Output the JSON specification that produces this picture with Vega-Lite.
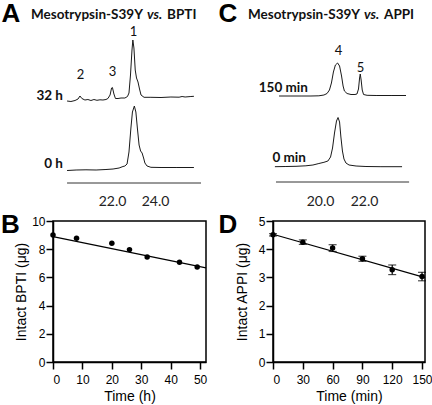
{
  "$schema": "https://vega.github.io/schema/vega-lite/v6.json",
  "padding": 0,
  "background": "white",
  "columns": 2,
  "align": "each",
  "bounds": "flush",
  "spacing": {"row": 38, "column": 67},
  "config": {"view": {"stroke": null}, "axis": {"grid": false}},
  "datasets": {
    "bptiTrace": [
      {"trace": "32 h", "t": 19.91, "s": 82}, {"trace": "32 h", "t": 20.09, "s": 81.5}, {"trace": "32 h", "t": 20.28, "s": 82.5},
      {"trace": "32 h", "t": 20.42, "s": 84}, {"trace": "32 h", "t": 20.51, "s": 87}, {"trace": "32 h", "t": 20.60, "s": 84.5},
      {"trace": "32 h", "t": 20.74, "s": 83}, {"trace": "32 h", "t": 20.88, "s": 83.5}, {"trace": "32 h", "t": 21.02, "s": 82.5},
      {"trace": "32 h", "t": 21.16, "s": 83.5}, {"trace": "32 h", "t": 21.30, "s": 82.7}, {"trace": "32 h", "t": 21.44, "s": 83.2},
      {"trace": "32 h", "t": 21.58, "s": 83}, {"trace": "32 h", "t": 21.72, "s": 83.5}, {"trace": "32 h", "t": 21.81, "s": 84.5},
      {"trace": "32 h", "t": 21.91, "s": 88}, {"trace": "32 h", "t": 21.98, "s": 95}, {"trace": "32 h", "t": 22.02, "s": 95.5},
      {"trace": "32 h", "t": 22.09, "s": 89}, {"trace": "32 h", "t": 22.16, "s": 84.5}, {"trace": "32 h", "t": 22.28, "s": 84.5},
      {"trace": "32 h", "t": 22.42, "s": 85}, {"trace": "32 h", "t": 22.60, "s": 85}, {"trace": "32 h", "t": 22.72, "s": 86.5},
      {"trace": "32 h", "t": 22.79, "s": 90}, {"trace": "32 h", "t": 22.86, "s": 108}, {"trace": "32 h", "t": 22.93, "s": 133},
      {"trace": "32 h", "t": 22.97, "s": 143}, {"trace": "32 h", "t": 23.02, "s": 135}, {"trace": "32 h", "t": 23.08, "s": 113},
      {"trace": "32 h", "t": 23.14, "s": 105}, {"trace": "32 h", "t": 23.21, "s": 101}, {"trace": "32 h", "t": 23.28, "s": 94},
      {"trace": "32 h", "t": 23.35, "s": 88}, {"trace": "32 h", "t": 23.49, "s": 85.7}, {"trace": "32 h", "t": 23.81, "s": 85.7},
      {"trace": "32 h", "t": 24.28, "s": 85.5}, {"trace": "32 h", "t": 24.74, "s": 86}, {"trace": "32 h", "t": 25.12, "s": 85.8},
      {"trace": "32 h", "t": 25.26, "s": 86.5}, {"trace": "32 h", "t": 25.40, "s": 86}, {"trace": "32 h", "t": 25.67, "s": 86.5},
      {"trace": "32 h", "t": 25.81, "s": 86.7},
      {"trace": "0 h", "t": 19.91, "s": 12.5}, {"trace": "0 h", "t": 20.33, "s": 13}, {"trace": "0 h", "t": 20.79, "s": 13.2},
      {"trace": "0 h", "t": 21.26, "s": 13}, {"trace": "0 h", "t": 21.72, "s": 13.5}, {"trace": "0 h", "t": 22.05, "s": 14},
      {"trace": "0 h", "t": 22.33, "s": 15}, {"trace": "0 h", "t": 22.51, "s": 16.5}, {"trace": "0 h", "t": 22.60, "s": 17},
      {"trace": "0 h", "t": 22.70, "s": 19}, {"trace": "0 h", "t": 22.79, "s": 31}, {"trace": "0 h", "t": 22.88, "s": 55},
      {"trace": "0 h", "t": 22.95, "s": 71}, {"trace": "0 h", "t": 23.04, "s": 77}, {"trace": "0 h", "t": 23.11, "s": 71},
      {"trace": "0 h", "t": 23.18, "s": 55}, {"trace": "0 h", "t": 23.26, "s": 38}, {"trace": "0 h", "t": 23.33, "s": 32},
      {"trace": "0 h", "t": 23.40, "s": 30}, {"trace": "0 h", "t": 23.47, "s": 25}, {"trace": "0 h", "t": 23.53, "s": 20},
      {"trace": "0 h", "t": 23.63, "s": 17}, {"trace": "0 h", "t": 23.81, "s": 15.7}, {"trace": "0 h", "t": 24.28, "s": 15.5},
      {"trace": "0 h", "t": 24.98, "s": 15.5}, {"trace": "0 h", "t": 25.81, "s": 15.5}
    ],
    "bptiAxis": [{"t": 19.91, "t2": 26.14, "s": 0}],
    "bptiText": [
      {"kind": "letter", "t": 16.86, "s": 161, "label": "A"},
      {"kind": "head", "t": 18.23, "s": 164, "label": "Mesotrypsin-S39Y"},
      {"kind": "headit", "t": 23.63, "s": 164, "label": "vs."},
      {"kind": "head", "t": 24.56, "s": 164, "label": "BPTI"},
      {"kind": "trace", "t": 19.72, "s": 83, "label": "32 h"},
      {"kind": "trace", "t": 19.72, "s": 15, "label": "0 h"},
      {"kind": "peak", "t": 23.0, "s": 147, "label": "1"},
      {"kind": "peak", "t": 20.53, "s": 104, "label": "2"},
      {"kind": "peak", "t": 22.02, "s": 107, "label": "3"}
    ],
    "appiTrace": [
      {"trace": "150 min", "t": 18.14, "s": 87}, {"trace": "150 min", "t": 18.68, "s": 87}, {"trace": "150 min", "t": 19.14, "s": 87},
      {"trace": "150 min", "t": 19.59, "s": 87}, {"trace": "150 min", "t": 19.95, "s": 87.2}, {"trace": "150 min", "t": 20.18, "s": 88},
      {"trace": "150 min", "t": 20.32, "s": 89.5}, {"trace": "150 min", "t": 20.43, "s": 93}, {"trace": "150 min", "t": 20.52, "s": 100},
      {"trace": "150 min", "t": 20.61, "s": 111}, {"trace": "150 min", "t": 20.70, "s": 118}, {"trace": "150 min", "t": 20.80, "s": 120},
      {"trace": "150 min", "t": 20.89, "s": 117}, {"trace": "150 min", "t": 20.98, "s": 107}, {"trace": "150 min", "t": 21.05, "s": 97},
      {"trace": "150 min", "t": 21.11, "s": 92}, {"trace": "150 min", "t": 21.23, "s": 89.5}, {"trace": "150 min", "t": 21.41, "s": 88.5},
      {"trace": "150 min", "t": 21.59, "s": 88.5}, {"trace": "150 min", "t": 21.68, "s": 89}, {"trace": "150 min", "t": 21.75, "s": 94},
      {"trace": "150 min", "t": 21.80, "s": 105}, {"trace": "150 min", "t": 21.83, "s": 109}, {"trace": "150 min", "t": 21.87, "s": 103},
      {"trace": "150 min", "t": 21.92, "s": 93}, {"trace": "150 min", "t": 21.98, "s": 88.5}, {"trace": "150 min", "t": 22.14, "s": 87.7},
      {"trace": "150 min", "t": 22.55, "s": 87.5}, {"trace": "150 min", "t": 23.23, "s": 87.5}, {"trace": "150 min", "t": 23.91, "s": 87.5},
      {"trace": "0 min", "t": 17.95, "s": 16.3}, {"trace": "0 min", "t": 18.45, "s": 16.5}, {"trace": "0 min", "t": 18.91, "s": 16.7},
      {"trace": "0 min", "t": 19.36, "s": 17.2}, {"trace": "0 min", "t": 19.68, "s": 18}, {"trace": "0 min", "t": 19.95, "s": 19.5},
      {"trace": "0 min", "t": 20.18, "s": 20.7}, {"trace": "0 min", "t": 20.36, "s": 22}, {"trace": "0 min", "t": 20.48, "s": 26},
      {"trace": "0 min", "t": 20.57, "s": 35}, {"trace": "0 min", "t": 20.66, "s": 50}, {"trace": "0 min", "t": 20.75, "s": 62},
      {"trace": "0 min", "t": 20.82, "s": 65.5}, {"trace": "0 min", "t": 20.89, "s": 61}, {"trace": "0 min", "t": 20.95, "s": 46},
      {"trace": "0 min", "t": 21.02, "s": 32}, {"trace": "0 min", "t": 21.09, "s": 24}, {"trace": "0 min", "t": 21.18, "s": 20},
      {"trace": "0 min", "t": 21.32, "s": 18}, {"trace": "0 min", "t": 21.64, "s": 17}, {"trace": "0 min", "t": 22.09, "s": 16.5},
      {"trace": "0 min", "t": 22.77, "s": 16.3}, {"trace": "0 min", "t": 23.73, "s": 16.3}
    ],
    "appiAxis": [{"t": 18.0, "t2": 24.05, "s": 1}],
    "appiText": [
      {"kind": "letter", "t": 15.39, "s": 161, "label": "C"},
      {"kind": "head", "t": 16.73, "s": 164, "label": "Mesotrypsin-S39Y"},
      {"kind": "headit", "t": 22.0, "s": 164, "label": "vs."},
      {"kind": "head", "t": 22.91, "s": 164, "label": "APPI"},
      {"kind": "trace", "t": 19.45, "s": 91, "label": "150 min"},
      {"kind": "trace", "t": 19.36, "s": 21, "label": "0 min"},
      {"kind": "peak", "t": 20.84, "s": 128, "label": "4"},
      {"kind": "peak", "t": 21.84, "s": 111, "label": "5"}
    ],
    "bptiPoints": [
      {"time": 0, "amount": 9.0}, {"time": 8, "amount": 8.77}, {"time": 20, "amount": 8.42},
      {"time": 26, "amount": 7.97}, {"time": 32, "amount": 7.45}, {"time": 43, "amount": 7.07},
      {"time": 49, "amount": 6.74}
    ],
    "bptiFit": [{"time": 0, "amount": 8.89}, {"time": 52, "amount": 6.67}],
    "bptiLetter": [{"time": -17.69, "amount": 9.15, "label": "B"}],
    "appiPoints": [
      {"time": 0, "amount": 4.51, "err": 0.04}, {"time": 30, "amount": 4.25, "err": 0.08},
      {"time": 60, "amount": 4.04, "err": 0.12}, {"time": 90, "amount": 3.66, "err": 0.09},
      {"time": 120, "amount": 3.27, "err": 0.17}, {"time": 150, "amount": 3.03, "err": 0.15}
    ],
    "appiFit": [{"time": 0, "amount": 4.53}, {"time": 153, "amount": 2.99}],
    "appiLetter": [{"time": -54.9, "amount": 4.57, "label": "D"}]
  },
  "concat": [
    {
      "width": 153, "height": 183,
      "encoding": {
        "x": {"field": "t", "type": "quantitative", "scale": {"domain": [19.256, 26.372], "nice": false, "zero": false},
              "axis": {"values": [22, 24], "format": ".1f", "domain": false, "ticks": false, "labelFont": "Lato", "labelFontSize": 14, "labelPadding": 11, "labelColor": "#222", "title": null}},
        "y": {"field": "s", "type": "quantitative", "scale": {"domain": [0, 183], "nice": false, "zero": false}, "axis": null}
      },
      "layer": [
        {"data": {"name": "bptiTrace"}, "mark": {"type": "line", "color": "#1a1a1a", "strokeWidth": 1}, "encoding": {"detail": {"field": "trace"}}},
        {"data": {"name": "bptiAxis"}, "mark": {"type": "rule", "color": "#333", "strokeWidth": 1}, "encoding": {"x2": {"field": "t2"}}},
        {"data": {"name": "bptiText"}, "transform": [{"filter": "datum.kind === 'peak'"}], "mark": {"type": "text", "font": "Lato", "fontSize": 13, "align": "center", "baseline": "alphabetic", "color": "#111"}, "encoding": {"text": {"field": "label"}}},
        {"data": {"name": "bptiText"}, "transform": [{"filter": "datum.kind === 'trace'"}], "mark": {"type": "text", "font": "Lato", "fontSize": 13.5, "fontWeight": "bold", "align": "right", "baseline": "alphabetic", "color": "#111"}, "encoding": {"text": {"field": "label"}}},
        {"data": {"name": "bptiText"}, "transform": [{"filter": "datum.kind === 'head'"}], "mark": {"type": "text", "font": "Lato", "fontSize": 13.5, "fontWeight": "bold", "align": "left", "baseline": "alphabetic", "color": "#111"}, "encoding": {"text": {"field": "label"}}},
        {"data": {"name": "bptiText"}, "transform": [{"filter": "datum.kind === 'headit'"}], "mark": {"type": "text", "font": "Lato", "fontSize": 13.5, "fontWeight": "bold", "fontStyle": "italic", "align": "left", "baseline": "alphabetic", "color": "#111"}, "encoding": {"text": {"field": "label"}}},
        {"data": {"name": "bptiText"}, "transform": [{"filter": "datum.kind === 'letter'"}], "mark": {"type": "text", "font": "Liberation Sans", "fontSize": 26, "fontWeight": "bold", "align": "left", "baseline": "alphabetic", "color": "#000"}, "encoding": {"text": {"field": "label"}}}
      ]
    },
    {
      "width": 152, "height": 183,
      "encoding": {
        "x": {"field": "t", "type": "quantitative", "scale": {"domain": [17.864, 24.773], "nice": false, "zero": false},
              "axis": {"values": [20, 22], "format": ".1f", "domain": false, "ticks": false, "labelFont": "Lato", "labelFontSize": 14, "labelPadding": 11, "labelColor": "#222", "title": null}},
        "y": {"field": "s", "type": "quantitative", "scale": {"domain": [0, 183], "nice": false, "zero": false}, "axis": null}
      },
      "layer": [
        {"data": {"name": "appiTrace"}, "mark": {"type": "line", "color": "#1a1a1a", "strokeWidth": 1}, "encoding": {"detail": {"field": "trace"}}},
        {"data": {"name": "appiAxis"}, "mark": {"type": "rule", "color": "#333", "strokeWidth": 1}, "encoding": {"x2": {"field": "t2"}}},
        {"data": {"name": "appiText"}, "transform": [{"filter": "datum.kind === 'peak'"}], "mark": {"type": "text", "font": "Lato", "fontSize": 13, "align": "center", "baseline": "alphabetic", "color": "#111"}, "encoding": {"text": {"field": "label"}}},
        {"data": {"name": "appiText"}, "transform": [{"filter": "datum.kind === 'trace'"}], "mark": {"type": "text", "font": "Lato", "fontSize": 13.5, "fontWeight": "bold", "align": "right", "baseline": "alphabetic", "color": "#111"}, "encoding": {"text": {"field": "label"}}},
        {"data": {"name": "appiText"}, "transform": [{"filter": "datum.kind === 'head'"}], "mark": {"type": "text", "font": "Lato", "fontSize": 13.5, "fontWeight": "bold", "align": "left", "baseline": "alphabetic", "color": "#111"}, "encoding": {"text": {"field": "label"}}},
        {"data": {"name": "appiText"}, "transform": [{"filter": "datum.kind === 'headit'"}], "mark": {"type": "text", "font": "Lato", "fontSize": 13.5, "fontWeight": "bold", "fontStyle": "italic", "align": "left", "baseline": "alphabetic", "color": "#111"}, "encoding": {"text": {"field": "label"}}},
        {"data": {"name": "appiText"}, "transform": [{"filter": "datum.kind === 'letter'"}], "mark": {"type": "text", "font": "Liberation Sans", "fontSize": 26, "fontWeight": "bold", "align": "left", "baseline": "alphabetic", "color": "#000"}, "encoding": {"text": {"field": "label"}}}
      ]
    },
    {
      "width": 153, "height": 141,
      "view": {"stroke": "black", "strokeWidth": 1.5},
      "encoding": {
        "x": {"field": "time", "type": "quantitative", "scale": {"domain": [0, 52], "nice": false},
              "axis": {"values": [0, 10, 20, 30, 40, 50], "title": "Time (h)", "domainColor": "black", "domainWidth": 1.5, "tickColor": "black", "tickWidth": 1.5, "tickSize": 7, "labelFont": "Liberation Sans", "labelFontSize": 12, "labelColor": "black", "labelPadding": 5.5, "titleFont": "Liberation Sans", "titleFontSize": 14, "titleFontWeight": "normal", "titleColor": "black", "titlePadding": 3.5}},
        "y": {"field": "amount", "type": "quantitative", "scale": {"domain": [0, 10], "nice": false},
              "axis": {"values": [0, 2, 4, 6, 8, 10], "title": "Intact BPTI (μg)", "domainColor": "black", "domainWidth": 1.5, "tickColor": "black", "tickWidth": 1.5, "tickSize": 7, "labelFont": "Liberation Sans", "labelFontSize": 12, "labelColor": "black", "labelPadding": 1, "titleFont": "Liberation Sans", "titleFontSize": 14, "titleFontWeight": "normal", "titleColor": "black", "titlePadding": 3}}
      },
      "layer": [
        {"data": {"name": "bptiFit"}, "mark": {"type": "line", "color": "black", "strokeWidth": 1.2}},
        {"data": {"name": "bptiPoints"}, "mark": {"type": "point", "filled": true, "size": 30, "color": "black", "opacity": 1}},
        {"data": {"name": "bptiLetter"}, "mark": {"type": "text", "font": "Liberation Sans", "fontSize": 26, "fontWeight": "bold", "align": "left", "baseline": "alphabetic", "color": "#000"}, "encoding": {"text": {"field": "label"}}}
      ]
    },
    {
      "width": 152, "height": 141,
      "view": {"stroke": "black", "strokeWidth": 1.5},
      "encoding": {
        "x": {"field": "time", "type": "quantitative", "scale": {"domain": [0, 153], "nice": false},
              "axis": {"values": [0, 30, 60, 90, 120, 150], "title": "Time (min)", "domainColor": "black", "domainWidth": 1.5, "tickColor": "black", "tickWidth": 1.5, "tickSize": 7, "labelFont": "Liberation Sans", "labelFontSize": 12, "labelColor": "black", "labelPadding": 5.5, "titleFont": "Liberation Sans", "titleFontSize": 14, "titleFontWeight": "normal", "titleColor": "black", "titlePadding": 3.5}},
        "y": {"field": "amount", "type": "quantitative", "scale": {"domain": [0, 5], "nice": false},
              "axis": {"values": [0, 1, 2, 3, 4, 5], "title": "Intact APPI (μg)", "domainColor": "black", "domainWidth": 1.5, "tickColor": "black", "tickWidth": 1.5, "tickSize": 7, "labelFont": "Liberation Sans", "labelFontSize": 12, "labelColor": "black", "labelPadding": 1, "titleFont": "Liberation Sans", "titleFontSize": 14, "titleFontWeight": "normal", "titleColor": "black", "titlePadding": 8.5}}
      },
      "layer": [
        {"data": {"name": "appiFit"}, "mark": {"type": "line", "color": "black", "strokeWidth": 1.2}},
        {"data": {"name": "appiPoints"}, "mark": {"type": "errorbar", "ticks": {"size": 8, "color": "black", "thickness": 1.2}, "rule": {"color": "black", "strokeWidth": 1.2}}, "encoding": {"yError": {"field": "err"}}},
        {"data": {"name": "appiPoints"}, "mark": {"type": "point", "filled": true, "size": 30, "color": "black", "opacity": 1}},
        {"data": {"name": "appiLetter"}, "mark": {"type": "text", "font": "Liberation Sans", "fontSize": 26, "fontWeight": "bold", "align": "left", "baseline": "alphabetic", "color": "#000"}, "encoding": {"text": {"field": "label"}}}
      ]
    }
  ]
}
